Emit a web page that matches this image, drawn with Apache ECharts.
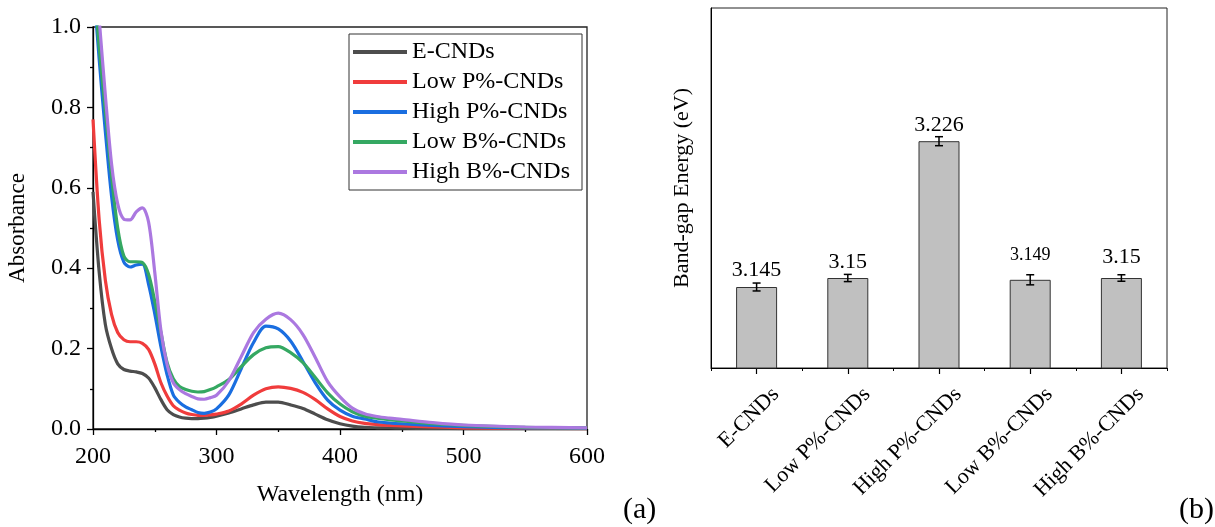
<!DOCTYPE html>
<html>
<head>
<meta charset="utf-8">
<script src="https://cdn.jsdelivr.net/npm/echarts@6/dist/echarts.min.js"></script>
<style>
html,body{margin:0;padding:0;background:#fff;}
#chart{width:1215px;height:527px;}
</style>
</head>
<body>
<div id="chart"></div>
<script>
// ---------- Data (a): UV-Vis absorbance ----------
const wavelengths = [200,205,210,215,220,225,230,235,240,245,250,255,260,265,270,275,280,285,290,295,300,310,320,330,340,350,360,370,380,390,400,410,420,430,440,450,475,500,550,600];
const seriesNames = ['E-CNDs','Low P%-CNDs','High P%-CNDs','Low B%-CNDs','High B%-CNDs'];
const absE     = [0.59,0.39,0.26,0.20,0.162,0.148,0.144,0.142,0.138,0.127,0.103,0.073,0.048,0.036,0.030,0.027,0.026,0.026,0.027,0.029,0.032,0.040,0.050,0.060,0.067,0.067,0.060,0.051,0.037,0.023,0.013,0.007,0.004,0.003,0.0025,0.002,0.0015,0.001,0.001,0.001];
const absLowP  = [0.77,0.52,0.37,0.285,0.24,0.222,0.217,0.217,0.213,0.198,0.162,0.115,0.082,0.058,0.047,0.040,0.036,0.034,0.034,0.035,0.037,0.045,0.062,0.084,0.100,0.105,0.101,0.091,0.073,0.050,0.031,0.020,0.014,0.011,0.009,0.008,0.005,0.003,0.002,0.001];
const absHighP = [1.12,0.92,0.74,0.58,0.47,0.415,0.403,0.408,0.410,0.360,0.287,0.205,0.135,0.085,0.066,0.055,0.048,0.041,0.039,0.042,0.050,0.085,0.150,0.215,0.256,0.249,0.219,0.168,0.115,0.072,0.047,0.032,0.025,0.018,0.015,0.013,0.009,0.006,0.003,0.002];
const absLowB  = [1.14,0.95,0.79,0.63,0.50,0.43,0.416,0.416,0.414,0.385,0.318,0.240,0.165,0.125,0.106,0.098,0.094,0.092,0.093,0.098,0.105,0.123,0.155,0.185,0.202,0.205,0.190,0.165,0.128,0.090,0.062,0.043,0.032,0.027,0.023,0.020,0.013,0.009,0.004,0.003];
const absHighB = [1.21,1.02,0.83,0.66,0.56,0.522,0.52,0.54,0.550,0.515,0.390,0.245,0.160,0.115,0.098,0.088,0.081,0.075,0.074,0.078,0.084,0.120,0.180,0.240,0.273,0.288,0.272,0.235,0.178,0.118,0.080,0.052,0.038,0.031,0.027,0.024,0.016,0.010,0.005,0.003];
const xTicks = [200,300,400,500,600];
const yTicks = [0.0,0.2,0.4,0.6,0.8,1.0];

// ---------- Data (b): band-gap energy ----------
const categories = ['E-CNDs','Low P%-CNDs','High P%-CNDs','Low B%-CNDs','High B%-CNDs'];
const bandGap    = [3.145,3.15,3.226,3.149,3.15];
const bandGapErr = [0.0022,0.002,0.0025,0.0028,0.0018];
const bandGapLabels = ['3.145','3.15','3.226','3.149','3.15'];

// ---------- styles ----------
const colors = ['#4d4d4d','#f03c3c','#1a6ee0','#35a862','#ab78e0'];
const labelDist = [6,5,5,16,10];
const labelSize = [22,22,22,18,22];
const FONT = '"Liberation Serif", "Times New Roman", serif';

const absSets = [absE, absLowP, absHighP, absLowB, absHighB];
const lineSeries = absSets.map((arr, i) => ({
  name: seriesNames[i],
  type: 'line',
  xAxisIndex: 0, yAxisIndex: 0,
  data: wavelengths.map((w, j) => [w, arr[j]]),
  showSymbol: false, symbol: 'none',
  smooth: 0.3,
  clip: true,
  lineStyle: { color: colors[i], width: 3.2 },
  itemStyle: { color: colors[i] },
  z: 3 + i
}));

const chart = echarts.init(document.getElementById('chart'), null, { renderer: 'canvas' });

const option = {
  backgroundColor: '#fff',
  animation: false,
  textStyle: { fontFamily: FONT, color: '#000' },
  grid: [
    { left: 93, top: 27, width: 494, height: 402, show: true, borderColor: '#222', borderWidth: 1.3, backgroundColor: 'transparent' },
    { left: 711, top: 8, width: 456, height: 360, show: true, borderColor: '#222', borderWidth: 1, backgroundColor: 'transparent' }
  ],
  legend: {
    data: seriesNames,
    orient: 'vertical',
    left: 349, top: 34,
    icon: 'rect',
    itemWidth: 54, itemHeight: 4,
    itemGap: 6,
    padding: [6, 12, 6, 4],
    borderColor: '#333', borderWidth: 1,
    textStyle: { fontFamily: FONT, fontSize: 24, color: '#000', lineHeight: 24 },
    selectedMode: false
  },
  xAxis: [
    {
      gridIndex: 0, type: 'value', min: 200, max: 600, interval: 100,
      name: 'Wavelength (nm)', nameLocation: 'middle', nameGap: 54,
      nameTextStyle: { fontFamily: FONT, fontSize: 24, color: '#000' },
      axisLine: { show: true, onZero: false, lineStyle: { color: '#000', width: 1.3 } },
      axisTick: { show: true, inside: false, length: 6, lineStyle: { color: '#000', width: 1.3 } },
      minorTick: { show: true, splitNumber: 2, length: 3, lineStyle: { color: '#000', width: 1.3 } },
      axisLabel: { fontFamily: FONT, fontSize: 24, color: '#000', margin: 16, formatter: v => xTicks.includes(v) ? String(v) : '' },
      splitLine: { show: false }
    },
    {
      gridIndex: 1, type: 'category', data: categories, boundaryGap: true, position: 'bottom',
      axisLine: { show: true, lineStyle: { color: '#000', width: 1 } },
      axisTick: { show: true, alignWithLabel: true, length: 6, lineStyle: { color: '#000', width: 1.2 } },
      axisLabel: { fontFamily: FONT, fontSize: 22, color: '#000', rotate: 45, margin: 4, interval: 0, verticalAlign: 'top', padding: [16, 0, 0, 0] },
      splitLine: { show: false }
    },
    {
      gridIndex: 1, type: 'category', data: categories, boundaryGap: true, position: 'bottom',
      axisLine: { show: false },
      axisTick: { show: true, alignWithLabel: false, length: 3, interval: 0, lineStyle: { color: '#000', width: 1 } },
      axisLabel: { show: false },
      splitLine: { show: false }
    }
  ],
  yAxis: [
    {
      gridIndex: 0, type: 'value', min: 0, max: 1, interval: 0.2,
      name: 'Absorbance', nameLocation: 'middle', nameGap: 64,
      nameTextStyle: { fontFamily: FONT, fontSize: 23, color: '#000' },
      axisLine: { show: true, onZero: false, lineStyle: { color: '#000', width: 1.3 } },
      axisTick: { show: true, inside: false, length: 6, lineStyle: { color: '#000', width: 1.3 } },
      minorTick: { show: true, splitNumber: 2, length: 3, lineStyle: { color: '#000', width: 1.3 } },
      axisLabel: { fontFamily: FONT, fontSize: 24, color: '#000', margin: 12, formatter: v => v.toFixed(1) },
      splitLine: { show: false }
    },
    {
      gridIndex: 1, type: 'value', min: 3.1, max: 3.3,
      name: 'Band-gap Energy (eV)', nameLocation: 'middle', nameGap: 18,
      nameTextStyle: { fontFamily: FONT, fontSize: 22, color: '#000' },
      axisLine: { show: true, lineStyle: { color: '#000', width: 1 } },
      axisTick: { show: false },
      axisLabel: { show: false },
      splitLine: { show: false }
    }
  ],
  series: [
    ...lineSeries,
    {
      name: 'Band gap',
      type: 'bar',
      xAxisIndex: 1, yAxisIndex: 1,
      barWidth: 41,
      data: bandGap.map((v, i) => ({
        value: v,
        label: {
          show: true, position: 'top', distance: labelDist[i],
          formatter: bandGapLabels[i],
          fontFamily: FONT, fontSize: labelSize[i], color: '#000'
        }
      })),
      itemStyle: { color: '#c0c0c0', borderColor: '#333', borderWidth: 1 },
      z: 2
    },
    {
      name: 'Error',
      type: 'custom',
      xAxisIndex: 1, yAxisIndex: 1,
      data: bandGap.map((v, i) => [i, v - bandGapErr[i], v + bandGapErr[i]]),
      renderItem: function (params, api) {
        const x = api.value(0);
        const lo = api.coord([x, api.value(1)]);
        const hi = api.coord([x, api.value(2)]);
        const cap = 4;
        const st = { stroke: '#000', lineWidth: 1.5 };
        return {
          type: 'group',
          children: [
            { type: 'line', shape: { x1: lo[0], y1: lo[1], x2: hi[0], y2: hi[1] }, style: st },
            { type: 'line', shape: { x1: lo[0] - cap, y1: lo[1], x2: lo[0] + cap, y2: lo[1] }, style: st },
            { type: 'line', shape: { x1: hi[0] - cap, y1: hi[1], x2: hi[0] + cap, y2: hi[1] }, style: st }
          ]
        };
      },
      z: 5
    }
  ],
  graphic: [
    { type: 'text', left: 623, top: 495, style: { text: '(a)', font: '30px ' + FONT, fill: '#000' } },
    { type: 'text', left: 1179, top: 495, style: { text: '(b)', font: '30px ' + FONT, fill: '#000' } }
  ]
};
chart.setOption(option);
</script>
</body>
</html>
